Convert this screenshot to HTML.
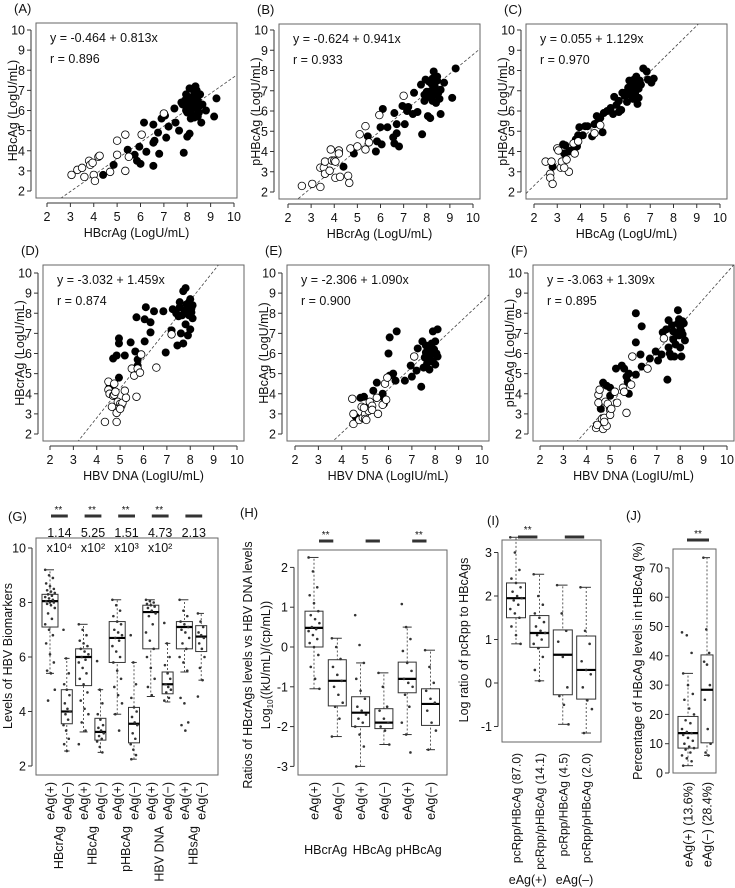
<!DOCTYPE html>
<html><head><meta charset="utf-8"><style>
html,body{margin:0;padding:0;background:#fff}
svg{display:block;font-family:"Liberation Sans",Arial,sans-serif}
</style></head><body>
<svg id="fig" xmlns="http://www.w3.org/2000/svg" width="735" height="888" viewBox="0 0 735 888"></svg>
<script>
// ---------- scatter data ----------
const aOpenX=[3.05,3.3,3.5,3.6,3.8,3.85,4.0,4.05,4.2,4.25,4.7,5.0,5.0,5.35,5.35,5.5,6.05,7.0,3.95];
const aOpenY=[2.8,3.05,3.15,2.7,3.5,3.3,2.8,2.5,3.7,3.75,2.95,3.8,4.5,4.8,3.0,3.7,4.8,5.85,3.4];
const aFillX=[4.4,4.85,5.45,5.75,5.85,5.95,6.0,6.15,6.25,6.55,6.55,6.6,6.55,6.75,6.8,6.9,7.05,7.1,7.2,7.45,7.5,7.65,7.75,7.85,7.9,8.0,8.0,8.05,8.1,8.1,8.15,8.2,8.2,8.25,8.3,8.35,8.4,8.45,8.5,8.55,8.6,8.65,8.8,9.15,9.25,7.95,8.3,8.05,8.4,8.15,7.8,8.5,8.25,8.35,8.45,7.95];
const aFillY=[2.8,3.3,4.05,3.8,3.5,4.2,3.35,5.4,3.95,5.3,4.4,4.5,3.25,4.9,3.85,5.6,5.75,4.65,5.2,6.1,5.4,5.0,6.4,3.9,6.5,4.7,5.9,6.2,7.1,4.85,6.0,6.4,5.8,6.7,6.9,7.2,6.1,6.5,5.9,6.8,5.4,6.3,6.0,5.7,6.6,6.0,5.65,6.6,7.0,5.6,6.3,6.2,6.2,6.45,5.7,6.8];
const bOpenX=[2.6,3.05,3.4,3.4,3.55,3.6,3.6,3.8,3.85,3.9,4.0,4.05,4.2,4.2,4.25,4.6,4.65,4.7,5.0,5.1,5.35,5.35,5.5,5.95,7.0,4.05];
const bOpenY=[2.3,2.4,2.25,3.2,3.2,3.5,2.9,3.05,4.1,3.55,3.55,2.7,4.05,3.9,2.75,2.8,2.45,4.15,4.25,4.85,5.25,4.1,4.45,5.8,6.75,3.5];
const bFillX=[4.4,4.85,5.45,5.8,5.85,6.0,6.05,6.1,6.3,6.55,6.6,6.6,6.7,6.7,6.8,6.95,7.05,7.15,7.2,7.4,7.45,7.6,7.75,7.8,7.9,7.95,8.05,8.15,8.1,8.2,8.25,8.3,8.35,8.4,8.45,8.5,8.55,8.6,8.6,8.75,9.1,9.25,8.0,8.2,8.3,8.45,8.1,7.9,8.35,8.25];
const bFillY=[3.25,3.9,4.75,4.0,4.5,5.2,4.35,6.1,5.2,4.7,4.4,5.9,5.35,4.9,4.25,6.25,5.35,6.0,6.2,5.85,6.9,5.95,7.3,4.85,6.5,7.55,5.75,5.65,6.7,7.0,7.6,7.95,7.2,6.4,7.5,6.9,6.6,7.05,5.85,7.4,6.65,8.1,6.95,7.35,6.8,7.7,7.45,6.8,7.45,6.5];
const cOpenX=[2.5,2.7,2.7,2.8,2.75,3.0,3.05,3.15,3.2,3.4,3.5,3.7,3.75,3.9,4.6,4.85,3.3];
const cOpenY=[3.5,2.9,2.7,2.4,3.5,4.15,4.05,3.2,3.5,3.6,3.0,4.4,3.9,4.5,4.9,5.3,3.2];
const cFillX=[2.8,3.25,3.3,3.35,3.5,3.6,3.8,3.85,3.9,3.95,4.1,4.2,4.3,4.5,4.6,4.7,4.7,4.85,4.95,5.0,5.15,5.3,5.4,5.45,5.55,5.65,5.75,5.8,5.9,6.0,6.05,6.1,6.15,6.2,6.25,6.3,6.35,6.4,6.45,6.5,6.5,6.55,6.6,6.7,6.85,6.9,7.05,7.15,6.0,6.25,6.4,5.65];
const cFillY=[3.25,4.35,3.9,4.3,4.0,4.05,4.6,4.25,4.8,5.2,4.8,5.25,5.25,4.75,5.35,5.4,5.75,5.65,4.95,5.9,6.0,6.15,5.85,6.7,6.3,6.5,6.05,6.9,6.75,6.45,7.15,7.5,6.8,7.05,7.25,7.55,6.9,7.4,6.35,7.1,6.65,7.5,7.3,8.1,7.95,7.55,7.4,7.6,6.95,6.6,7.7,5.95];
const dOpenX=[4.35,4.5,4.5,4.55,4.65,4.7,4.75,4.8,4.85,4.85,4.9,5.0,5.05,5.1,5.2,5.25,5.5,5.6,5.75,5.85,5.9,5.7,6.55,7.2,4.75,5.0];
const dOpenY=[2.6,4.6,4.2,4.0,3.35,3.9,3.95,4.1,3.05,2.6,3.6,3.5,3.4,3.55,4.15,3.8,5.25,4.9,5.25,5.05,5.95,3.85,5.3,6.95,4.5,3.25];
const dFillX=[4.55,4.95,4.7,4.85,4.95,4.95,5.2,5.45,5.65,5.7,5.75,5.75,6.05,6.05,6.1,6.3,6.3,6.45,6.85,6.95,7.2,7.25,7.45,7.5,7.55,7.6,7.7,7.8,7.8,7.85,7.9,7.95,8.0,8.0,8.05,8.1,8.1,7.55,7.65,7.75,7.85,7.95,7.7,7.4,8.05];
const dFillY=[4.35,4.8,5.75,5.9,6.75,6.5,5.9,6.55,6.1,7.8,5.4,5.7,6.6,7.7,8.3,7.55,7.05,8.1,8.1,6.05,7.15,8.2,6.4,7.85,8.3,7.0,9.1,9.25,7.45,8.45,6.9,7.9,8.7,7.2,8.05,8.4,7.75,8.55,7.9,8.05,8.2,8.55,6.5,8.0,8.25];
const eOpenX=[4.45,4.5,4.5,4.75,4.85,4.9,5.0,5.0,5.05,5.15,5.2,5.3,5.3,5.5,5.55,5.75,5.85,5.95,5.9,7.1,4.95];
const eOpenY=[3.75,3.0,2.5,2.7,3.35,2.8,3.0,2.75,2.7,3.15,3.6,3.4,3.2,3.8,3.0,3.45,4.5,4.8,3.7,5.85,3.3];
const eFillX=[4.6,4.8,4.95,5.05,5.1,5.35,5.5,5.75,5.75,5.8,6.0,6.05,6.05,6.2,6.3,6.35,6.7,6.95,7.0,7.2,7.25,7.4,7.45,7.5,7.55,7.6,7.65,7.7,7.75,7.8,7.85,7.9,7.9,7.95,8.0,8.05,8.1,8.1,7.85,7.6,7.75,8.0];
const eFillY=[2.85,3.8,3.85,3.3,3.25,4.15,4.55,4.0,3.85,3.5,6.0,6.8,4.9,5.0,4.65,7.1,4.65,5.4,4.85,5.15,6.25,4.35,6.6,5.3,5.8,6.05,5.5,6.3,5.2,5.9,6.5,7.1,5.6,6.2,5.45,6.0,7.2,5.85,6.1,6.4,5.7,6.6];
const fOpenX=[4.4,4.45,4.5,4.55,4.5,4.65,4.7,4.75,4.8,4.85,4.9,5.0,5.0,5.05,5.2,5.3,5.55,5.6,5.7,5.9,5.95,6.6,7.3,4.75];
const fOpenY=[2.3,2.45,3.95,4.2,3.55,2.75,2.25,2.8,3.6,2.4,3.5,3.2,2.95,3.25,4.1,3.55,4.3,4.1,3.05,4.45,5.85,5.25,6.75,2.6];
const fFillX=[4.6,4.7,4.85,5.0,5.0,5.25,5.5,5.6,5.7,5.75,5.8,5.8,6.1,6.1,6.1,6.35,6.3,6.35,6.7,6.95,7.05,7.2,7.25,7.4,7.45,7.5,7.5,7.55,7.6,7.7,7.7,7.75,7.8,7.9,7.9,7.95,8.0,8.0,8.05,8.1,8.1,8.15,8.2,7.85,7.95,7.65,8.05];
const fFillY=[3.25,4.55,4.4,3.9,4.3,5.25,5.4,5.25,4.85,4.6,5.0,4.0,8.0,6.55,4.95,7.35,5.95,5.35,5.75,6.1,5.65,5.95,7.05,7.2,4.7,7.65,6.3,6.0,5.85,7.1,6.7,5.85,6.45,8.15,7.5,6.9,7.3,6.3,5.85,7.6,6.95,7.5,6.65,7.0,7.7,7.4,7.1];
const regA=[-0.464,0.813], regB=[-0.624,0.941], regC=[0.055,1.129], regD=[-3.032,1.459], regE=[-2.306,1.090], regF=[-3.063,1.309];
const scatterTicks=[2,3,4,5,6,7,8,9,10];

// ---------- boxplot data: [low whisker, q1, median, q3, high whisker] ----------
const gCats=["eAg(+)","eAg(−)","eAg(+)","eAg(−)","eAg(+)","eAg(−)","eAg(+)","eAg(−)","eAg(+)","eAg(−)"];
const gGroups=["HBcrAg","HBcAg","pHBcAg","HBV DNA","HBsAg"];
const gStats=[[5.4,7.1,8.05,8.3,9.2],[2.55,3.55,4.0,4.8,5.95],[3.25,4.95,6.0,6.3,7.2],[2.5,2.95,3.25,3.75,4.8],[3.9,5.8,6.7,7.3,8.1],[2.25,2.85,3.55,4.15,5.8],[4.55,6.3,7.65,7.9,8.1],[4.35,4.65,5.0,5.45,6.5],[5.45,6.3,7.1,7.3,8.1],[5.15,6.2,6.75,7.15,7.6]];
const gPts=[[9.2,9.0,8.9,8.7,8.6,8.5,8.45,8.4,8.35,8.3,8.25,8.2,8.15,8.1,8.05,8.0,8.0,7.95,7.9,7.8,7.6,7.4,7.2,7.0,6.8,6.5,6.1,5.8,5.5,5.4,4.8,4.4],[7.0,5.95,5.4,5.0,4.8,4.6,4.3,4.1,4.0,3.9,3.7,3.5,3.3,3.0,2.8,2.55],[7.2,7.0,6.8,6.6,6.5,6.4,6.3,6.2,6.1,6.0,5.9,5.8,5.6,5.4,5.2,5.0,4.7,4.4,4.1,3.9,3.6,3.3,2.8],[5.85,4.8,4.3,3.9,3.7,3.5,3.4,3.3,3.2,3.1,3.0,2.9,2.7,2.5],[8.1,7.9,7.7,7.5,7.3,7.2,7.0,6.9,6.8,6.7,6.6,6.4,6.2,6.0,5.8,5.5,5.2,4.9,4.6,4.3,3.9,3.3],[6.8,5.8,5.0,4.5,4.15,4.0,3.8,3.6,3.5,3.2,3.0,2.8,2.6,2.4,2.25],[8.1,8.05,8.0,7.95,7.9,7.85,7.8,7.7,7.6,7.5,7.2,6.9,6.6,6.3,6.0,5.6,5.2,4.9,4.6],[7.25,6.5,6.0,5.7,5.4,5.2,5.0,4.9,4.8,4.7,4.5,4.4],[8.1,7.7,7.5,7.3,7.2,7.1,7.0,6.9,6.7,6.5,6.3,6.0,5.8,5.5,4.5,4.3,3.6,3.5,3.3],[7.6,7.3,7.1,6.9,6.8,6.7,6.5,6.3,6.0,5.6,5.15,4.55]];
const gFold=["1.14","5.25","1.51","4.73","2.13"];
const gExp=["x10⁴","x10²","x10³","x10²",""];
const gSig=["**","**","**","**",""];
const gTicks=[2,4,6,8,10];

const hCats=["eAg(+)","eAg(−)","eAg(+)","eAg(−)","eAg(+)","eAg(−)"];
const hGroups=["HBcrAg","HBcAg","pHBcAg"];
const hStats=[[-1.05,0.0,0.48,0.9,2.25],[-2.25,-1.48,-0.85,-0.32,0.22],[-3.0,-2.0,-1.65,-1.25,-0.4],[-2.45,-2.05,-1.9,-1.55,-0.65],[-2.2,-1.15,-0.8,-0.38,0.5],[-2.58,-1.97,-1.43,-1.05,-0.08]];
const hPts=[[2.25,1.9,1.5,1.3,1.1,0.9,0.8,0.7,0.6,0.5,0.45,0.4,0.3,0.2,0.1,0.0,-0.2,-0.5,-0.8,-1.05],[0.22,0.0,-0.3,-0.5,-0.7,-0.85,-1.0,-1.2,-1.4,-1.5,-1.8,-2.25],[0.8,0.05,-0.4,-0.8,-1.1,-1.3,-1.5,-1.6,-1.7,-1.8,-1.9,-2.0,-2.2,-2.5,-3.0],[-0.65,-1.0,-1.5,-1.6,-1.8,-1.9,-2.0,-2.1,-2.45],[1.08,0.5,0.2,-0.1,-0.4,-0.6,-0.8,-0.9,-1.0,-1.2,-1.5,-1.9,-2.2,-2.65],[-0.08,-0.5,-0.9,-1.1,-1.3,-1.4,-1.6,-1.9,-2.1,-2.58]];
const hSig=["**","","**"];
const hTicks=[-3,-2,-1,0,1,2];

const iCats=["pcRpp/HBcAg (87.0)","pcRpp/pHBcAg (14.1)","pcRpp/HBcAg (4.5)","pcRpp/pHBcAg (2.0)"];
const iGroups=["eAg(+)","eAg(–)"];
const iStats=[[0.9,1.5,1.95,2.3,3.35],[0.05,0.82,1.15,1.55,2.5],[-0.95,-0.27,0.65,1.22,2.25],[-1.15,-0.37,0.3,1.08,2.2]];
const iPts=[[3.35,3.0,2.6,2.4,2.3,2.2,2.1,2.0,1.95,1.9,1.8,1.7,1.6,1.5,1.3,1.1,0.9],[2.5,2.0,1.8,1.6,1.5,1.4,1.3,1.2,1.15,1.1,1.0,0.9,0.8,0.6,0.3,0.05],[2.25,1.6,1.2,0.95,0.6,-0.1,-0.3,-0.5,-0.95],[2.2,1.2,0.9,0.5,0.3,0.2,-0.1,-0.4,-0.6,-1.15]];
const iSig=["**",""];
const iTicks=[-1,0,1,2,3];

const jCats=["eAg(+) (13.6%)","eAg(−) (28.4%)"];
const jStats=[[2.5,8.5,13.6,19.3,34],[6,10.3,28.4,40.3,73.5]];
const jPts=[[48,47,41,34,30,27,25,22,20,18,17,15,14,13.6,13,12,11,10,9,8.5,8,7,6,5,4,2.5],[73.5,49,41,38,37,30,25,15,10,7,6]];
const jTicks=[0,10,20,30,40,50,60,70];

// ---------- helpers ----------
const NS="http://www.w3.org/2000/svg";
const svg=document.getElementById('fig');
function mk(tag,attrs,parent,text){const e=document.createElementNS(NS,tag);for(const k in attrs)e.setAttribute(k,attrs[k]);if(text!==undefined)e.textContent=text;(parent||svg).appendChild(e);return e;}
function grp(name){const g=document.createElementNS(NS,'g');


svg.appendChild(g);return g;}
function txt(p,x,y,s,name,opt){opt=opt||{};const t=mk('text',{x:x,y:y,'font-size':opt.fs||12,'text-anchor':opt.anchor||'middle',fill:'#111'},p,s);
if(opt.rot)t.setAttribute('transform','rotate(-90 '+x+' '+y+')');


return t;}

function scatter(id,letter,box,x2,x10,y10,y2,openX,openY,fillX,fillY,reg,xTitle,yTitle,eq,r){
  const g=grp('panel-'+id);
  const sx=v=>x2+(v-2)*(x10-x2)/8, sy=v=>y2-(v-2)*(y2-y10)/8;
  txt(g,box[0]-22,box[1]-10,'('+letter+')','panel-label-'+id,{fs:13,anchor:'start'});
  const fr=mk('rect',{x:box[0],y:box[1],width:box[2]-box[0],height:box[3]-box[1],fill:'none',stroke:'#666','stroke-width':1},g);
  
  
  const cp=mk('clipPath',{id:'clip-'+id},g);mk('rect',{x:box[0],y:box[1],width:box[2]-box[0],height:box[3]-box[1]},cp);
  const ax=box[0]-5, ay=box[3]+5;
  mk('line',{x1:ax,y1:sy(2),x2:ax,y2:sy(10),stroke:'#333'},g);
  mk('line',{x1:sx(2),y1:ay,x2:sx(10),y2:ay,stroke:'#333'},g);
  scatterTicks.forEach(t=>{
    mk('line',{x1:ax-4,y1:sy(t),x2:ax,y2:sy(t),stroke:'#333'},g);
    txt(g,ax-6,sy(t)+4.5,String(t),'y-tick-label',{anchor:'end',fs:12.5});
    mk('line',{x1:sx(t),y1:ay,x2:sx(t),y2:ay+4,stroke:'#333'},g);
    txt(g,sx(t),ay+18,String(t),'x-tick-label',{fs:12.5});
  });
  txt(g,(box[0]+box[2])/2,ay+34,xTitle,'x-axis-title',{fs:12.5});
  txt(g,box[0]-19,(box[1]+box[3])/2,yTitle,'y-axis-title',{fs:12.5,rot:true});
  const xa=2+(box[0]-x2)*8/(x10-x2), xb=2+(box[2]-x2)*8/(x10-x2);
  const ln=mk('line',{x1:sx(xa),y1:sy(reg[0]+reg[1]*xa),x2:sx(xb),y2:sy(reg[0]+reg[1]*xb),stroke:'#444','stroke-width':0.8,'stroke-dasharray':'3,2','clip-path':'url(#clip-'+id+')'},g);
  
  
  txt(g,box[0]+14,box[1]+19,eq,'regression-equation',{anchor:'start',fs:12.5});
  txt(g,box[0]+14,box[1]+40,r,'correlation-r',{anchor:'start',fs:12.5});
  fillX.forEach((v,i)=>{const c=mk('circle',{cx:sx(v),cy:sy(fillY[i]),r:4,fill:'#000'},g);
    
    });
  openX.forEach((v,i)=>{const c=mk('circle',{cx:sx(v),cy:sy(openY[i]),r:3.8,fill:'#fff',stroke:'#000','stroke-width':0.8},g);
    
    });
}

scatter('a','A',[36,23,237,198],47,234,30,191,aOpenX,aOpenY,aFillX,aFillY,regA,'HBcrAg (LogU/mL)','HBcAg (LogU/mL)','y = -0.464 + 0.813x','r = 0.896');
scatter('b','B',[279,24,480,199],288,473,30,192,bOpenX,bOpenY,bFillX,bFillY,regB,'HBcrAg (LogU/mL)','pHBcAg (LogU/mL)','y = -0.624 + 0.941x','r = 0.933');
scatter('c','C',[526,24,727,199],534,720,30,192,cOpenX,cOpenY,cFillX,cFillY,regC,'HBcAg (LogU/mL)','pHBcAg (LogU/mL)','y = 0.055   + 1.129x','r = 0.970');
scatter('d','D',[43,265,244,441],50,237,273,434,dOpenX,dOpenY,dFillX,dFillY,regD,'HBV DNA (LogIU/mL)','HBcrAg (LogU/mL)','y =  -3.032 + 1.459x','r = 0.874');
scatter('e','E',[287,265,489,441],295,482,273,434,eOpenX,eOpenY,eFillX,eFillY,regE,'HBV DNA (LogIU/mL)','HBcAg (LogU/mL)','y = -2.306   + 1.090x','r = 0.900');
scatter('f','F',[533,265,734,441],540,727,273,434,fOpenX,fOpenY,fFillX,fFillY,regF,'HBV DNA (LogIU/mL)','pHBcAg (LogU/mL)','y = -3.063   + 1.309x','r = 0.895');

function boxplot(id,box,sy,ticks,centers,widths,stats,pts,cats,labTop,rotFs){
  const g=grp('panel-'+id);
  const fr=mk('rect',{x:box[0],y:box[1],width:box[2]-box[0],height:box[3]-box[1],fill:'none',stroke:'#666'},g);
  
  
  const ax=box[0]-4;
  mk('line',{x1:ax,y1:sy(ticks[0]),x2:ax,y2:sy(ticks[ticks.length-1]),stroke:'#333'},g);
  ticks.forEach(t=>{mk('line',{x1:ax-4,y1:sy(t),x2:ax,y2:sy(t),stroke:'#333'},g);
    txt(g,ax-6,sy(t)+4.5,String(t),'y-tick-label',{anchor:'end',fs:12.5});});
  stats.forEach((s,i)=>{
    const cx=centers[i],w=widths[i],bg=grp('box-'+id+'-'+(i+1));g.appendChild(bg);
    mk('line',{x1:cx,y1:sy(s[0]),x2:cx,y2:sy(s[4]),stroke:'#333','stroke-dasharray':'2,2','stroke-width':0.8},bg);
    mk('line',{x1:cx-w/4,y1:sy(s[0]),x2:cx+w/4,y2:sy(s[0]),stroke:'#333'},bg);
    mk('line',{x1:cx-w/4,y1:sy(s[4]),x2:cx+w/4,y2:sy(s[4]),stroke:'#333'},bg);
    mk('rect',{x:cx-w/2,y:sy(s[3]),width:w,height:sy(s[1])-sy(s[3]),fill:'#fff',stroke:'#333'},bg);
    mk('line',{x1:cx-w/2,y1:sy(s[2]),x2:cx+w/2,y2:sy(s[2]),stroke:'#000','stroke-width':2.2},bg);
    pts[i].forEach((v,k)=>{const off=(((k*37)%11)-5)/5*w*0.3;
      const c=mk('circle',{cx:cx+off,cy:sy(v),r:1.3,fill:'#333'},bg);
      
      });
    txt(g,cx+4.5,labTop,cats[i],'x-category-label',{anchor:'end',rot:true,fs:rotFs||12.5});
  });
  return g;
}

// G
const gy=v=>766-(v-2)*27.25;
const gC=[],gW=[];gStats.forEach((s,i)=>{gC.push(50+16.8*i);gW.push(i%2===0?16:11);});
const G=boxplot('g',[36,538,218,775],gy,gTicks,gC,gW,gStats,gPts,gCats,782);
txt(G,8,521,'(G)','panel-label-g',{fs:13,anchor:'start'});
txt(G,12,656,'Levels of HBV Biomarkers','y-axis-title',{rot:true,fs:12.5});
gGroups.forEach((n,k)=>{txt(G,(gC[2*k]+gC[2*k+1])/2+4.5,826,n,'group-label',{anchor:'end',rot:true,fs:12.5});
  if(gSig[k]) txt(G,(gC[2*k]+gC[2*k+1])/2,513,gSig[k],'significance-mark',{fs:10});
  const b=mk('line',{x1:gC[2*k]+1,y1:516,x2:gC[2*k+1]+1,y2:516,stroke:'#333','stroke-width':3},G);
  
  
  txt(G,(gC[2*k]+gC[2*k+1])/2+1,537,gFold[k],'fold-change',{fs:12.5});
  if(gExp[k]) txt(G,(gC[2*k]+gC[2*k+1])/2+1,552,gExp[k],'fold-exponent',{fs:12.5});
});

// H
const hy=v=>647-v*39.8;
const hC=[],hW=[];hStats.forEach((s,i)=>{hC.push(314+23.3*i);hW.push(18);});
const H=boxplot('h',[298,550,447,775],hy,hTicks,hC,hW,hStats,hPts,hCats,782);
txt(H,240,517,'(H)','panel-label-h',{fs:13,anchor:'start'});
txt(H,252,665,'Ratios of HBcrAgs levels vs HBV DNA levels','y-axis-title',{rot:true,fs:12.5});
const hl=txt(H,270,665,'','y-axis-subtitle',{rot:true,fs:12.5});
hl.innerHTML='Log<tspan font-size="8" dy="3">10</tspan><tspan dy="-3">((kU/mL)/(cp/mL))</tspan>';
hGroups.forEach((n,k)=>{txt(H,(hC[2*k]+hC[2*k+1])/2,854,n,'group-label',{fs:12.5});
  if(hSig[k]) txt(H,(hC[2*k]+hC[2*k+1])/2,538,hSig[k],'significance-mark',{fs:10});
  const b=mk('line',{x1:hC[2*k]+5,y1:541,x2:hC[2*k+1]-4,y2:541,stroke:'#333','stroke-width':3},H);
  
  
});

// I
const iy=v=>683-v*43.5;
const iC=[],iW=[];iStats.forEach((s,i)=>{iC.push(516+23.4*i);iW.push(19);});
const I=boxplot('i',[502,540,601,742],iy,iTicks,iC,iW,iStats,iPts,iCats,753,12);
txt(I,487,525,'(I)','panel-label-i',{fs:13,anchor:'start'});
txt(I,468,640,'Log ratio of pcRpp to HBcAgs','y-axis-title',{rot:true,fs:12.5});
iGroups.forEach((n,k)=>{txt(I,(iC[2*k]+iC[2*k+1])/2,884,n,'group-label',{fs:12.5});
  if(iSig[k]) txt(I,(iC[2*k]+iC[2*k+1])/2,533,iSig[k],'significance-mark',{fs:10});
  const b=mk('line',{x1:iC[2*k]+2,y1:537,x2:iC[2*k+1]-2,y2:537,stroke:'#333','stroke-width':3},I);
  
  
});

// J
const jy=v=>773-v*2.93;
const J=boxplot('j',[673,549,716,773],jy,jTicks,[688,707],[20,12],jStats,jPts,jCats,782);
txt(J,626,520,'(J)','panel-label-j',{fs:13,anchor:'start'});
txt(J,642,661,'Percentage of HBcAg levels in tHBcAg (%)','y-axis-title',{rot:true,fs:12.5});
txt(J,698,537,'**','significance-mark',{fs:10});
const jb=mk('line',{x1:687,y1:540,x2:709,y2:540,stroke:'#333','stroke-width':3},J);


</script>
</body></html>
